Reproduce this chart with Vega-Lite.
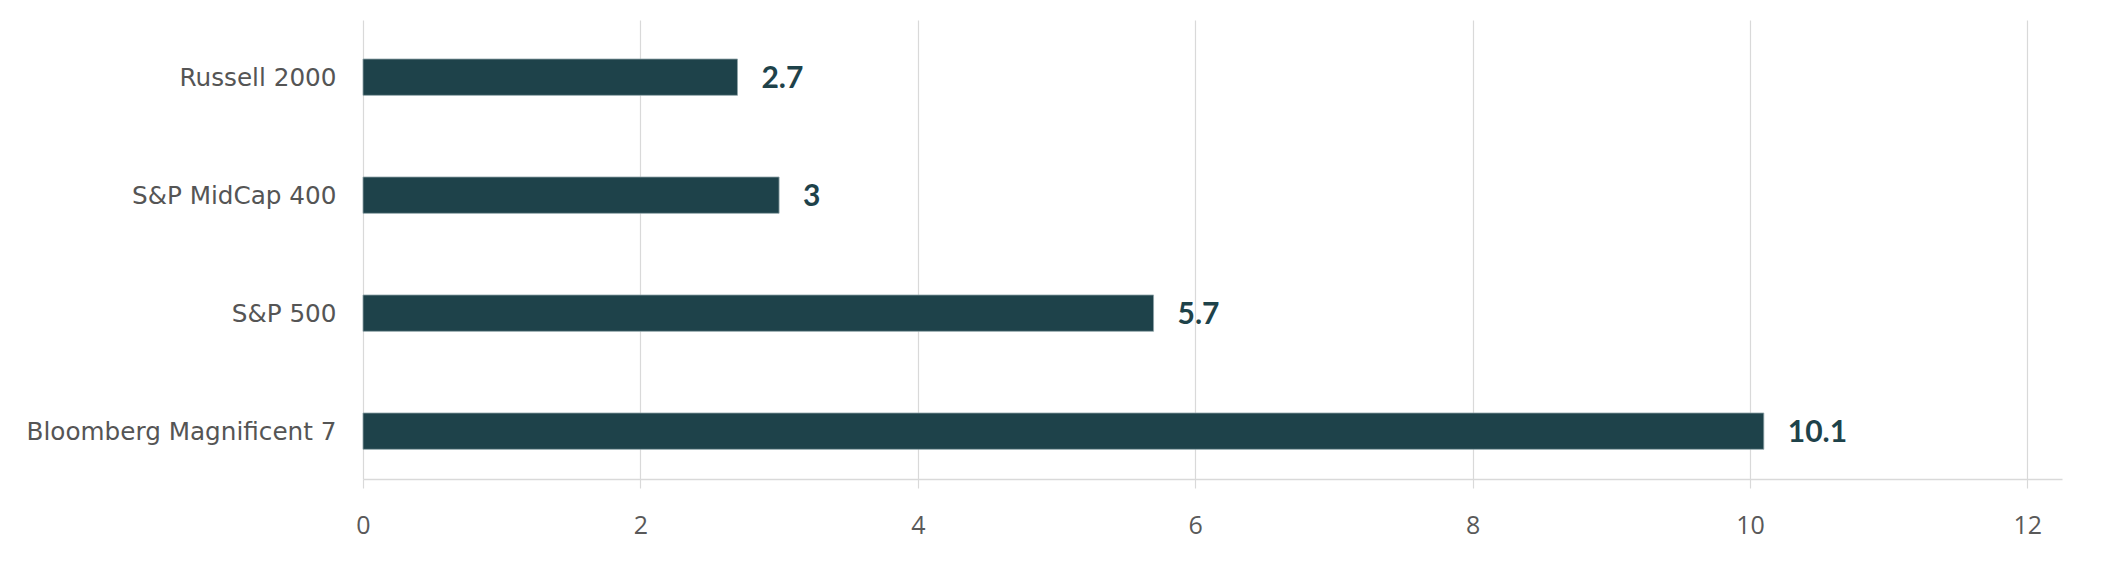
{
  "$schema": "https://vega.github.io/schema/vega-lite/v6.json",
  "width": 1699,
  "height": 459,
  "autosize": {"type": "none"},
  "padding": {"left": 363, "top": 20, "right": 42, "bottom": 92},
  "background": "white",
  "config": {"view": {"stroke": null}},
  "data": {
    "values": [
      {"index": "Russell 2000", "value": 2.7},
      {"index": "S&P MidCap 400", "value": 3},
      {"index": "S&P 500", "value": 5.7},
      {"index": "Bloomberg Magnificent 7", "value": 10.1}
    ]
  },
  "encoding": {
    "y": {
      "field": "index",
      "type": "nominal",
      "sort": ["Russell 2000", "S&P MidCap 400", "S&P 500", "Bloomberg Magnificent 7"],
      "scale": {"paddingInner": 0.692, "paddingOuter": 0.291, "align": 0.568},
      "axis": {
        "title": null,
        "domain": false,
        "ticks": false,
        "grid": false,
        "labelPadding": 27,
        "labelOffset": 1.5,
        "labelFont": "DejaVu Sans",
        "labelFontSize": 24.7,
        "labelColor": "#555555",
        "labelLimit": 400
      }
    },
    "x": {
      "field": "value",
      "type": "quantitative",
      "scale": {"domain": [0, 12.25], "nice": false, "zero": true},
      "axis": {
        "title": null,
        "values": [0, 2, 4, 6, 8, 10, 12],
        "grid": true,
        "gridColor": "#d9d9d9",
        "gridWidth": 1.2,
        "domainColor": "#d9d9d9",
        "domainWidth": 1.5,
        "tickColor": "#d9d9d9",
        "tickWidth": 1.2,
        "tickSize": 9,
        "labelPadding": 25,
        "labelFont": "Open Sans",
        "labelFontSize": 25,
        "labelColor": "#595959",
        "labelFlush": false
      }
    }
  },
  "layer": [
    {
      "mark": {"type": "bar", "color": "#1e424a", "stroke": "#8fa3a8", "strokeWidth": 0.8}
    },
    {
      "mark": {
        "type": "text",
        "align": "left",
        "baseline": "middle",
        "dx": 24,
        "dy": 1.5,
        "font": "Lato",
        "fontWeight": "bold",
        "fontSize": 30,
        "color": "#1e424a"
      },
      "encoding": {"text": {"field": "value", "type": "quantitative"}}
    }
  ]
}
